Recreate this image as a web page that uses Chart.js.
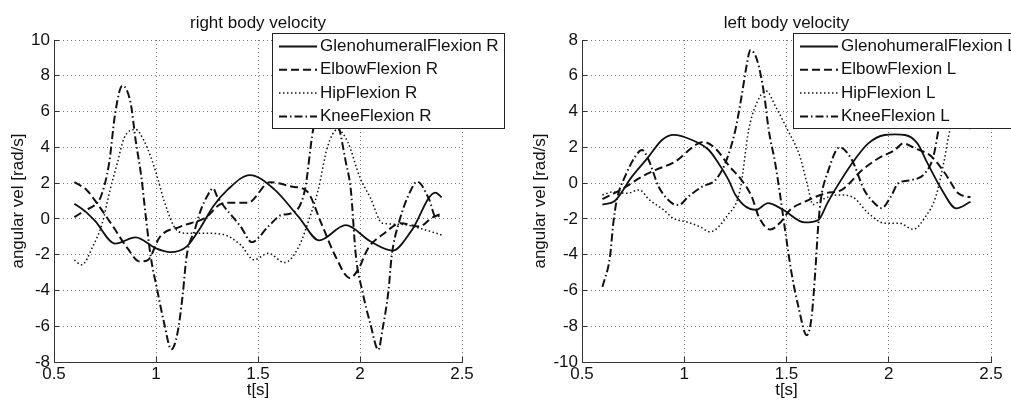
<!DOCTYPE html>
<html>
<head>
<meta charset="utf-8">
<script src="https://cdn.jsdelivr.net/npm/chart.js@4.4.0/dist/chart.umd.min.js"></script>
<style>
  html, body { margin: 0; padding: 0; background: #fff; }
  #wrap { position: relative; width: 1011px; height: 403px; overflow: hidden; }
  canvas { position: absolute; top: 0; }
</style>
</head>
<body>
<div id="wrap">
  <canvas id="rightBody" width="506" height="403" style="left:0"></canvas>
  <canvas id="leftBody" width="505" height="403" style="left:506px"></canvas>
</div>
<script>
// ---- data (t in s, angular velocity in rad/s) ----
const xTicks = [0.5, 1, 1.5, 2, 2.5];

// right body
const tGhR = [0.6, 0.65, 0.7, 0.8, 0.9, 1.0, 1.07, 1.15, 1.22, 1.28, 1.35, 1.46, 1.58, 1.7, 1.8, 1.93, 2.05, 2.16, 2.25, 2.37, 2.4];
const vGhR = [0.85, 0.45, -0.1, -1.38, -1.03, -1.65, -1.86, -1.55, -0.45, 0.69, 1.62, 2.45, 1.65, 0.1, -1.2, -0.35, -1.25, -1.77, -0.7, 1.47, 1.2];

const tElR = [0.6, 0.66, 0.71, 0.79, 0.86, 0.92, 0.96, 1.02, 1.12, 1.25, 1.31, 1.36, 1.45, 1.56, 1.67, 1.74, 1.81, 1.88, 1.95, 1.99, 2.04, 2.12, 2.2, 2.29, 2.35, 2.4];
const vElR = [2.05, 1.62, 0.88, -0.43, -1.64, -2.38, -2.3, -0.99, -0.43, 0.13, 0.78, 0.9, 0.9, 2.05, 1.8, 1.55, -0.24, -2.1, -3.3, -2.85, -1.64, -0.8, -0.24, -0.43, 0.04, 0.3];

const tHipR = [0.6, 0.636, 0.69, 0.735, 0.775, 0.81, 0.843, 0.9, 0.94, 0.974, 1.006, 1.04, 1.1, 1.15, 1.22, 1.32, 1.415, 1.48, 1.55, 1.63, 1.7, 1.755, 1.795, 1.84, 1.89, 1.94, 2.0, 2.05, 2.11, 2.2, 2.3, 2.4];
const vHipR = [-2.3, -2.57, -1.55, -0.3, 1.62, 3.1, 4.5, 5.0, 4.4, 3.48, 2.36, 1.0, -0.61, -0.8, -0.8, -0.85, -1.45, -2.29, -1.92, -2.44, -1.55, 0.13, 1.62, 4.0, 5.0, 4.3, 2.3, 1.2, -0.24, -0.3, -0.55, -0.9];

const tKnR = [0.6, 0.65, 0.71, 0.73, 0.77, 0.8, 0.835, 0.876, 0.9, 0.928, 0.95, 0.974, 1.006, 1.04, 1.075, 1.105, 1.13, 1.15, 1.19, 1.22, 1.25, 1.28, 1.3, 1.415, 1.47, 1.55, 1.615, 1.665, 1.73, 1.77, 1.84, 1.9, 1.93, 1.955, 1.98, 2.01, 2.05, 2.09, 2.11, 2.14, 2.155, 2.19, 2.25, 2.28, 2.34, 2.37, 2.4];
const vKnR = [0.1, 0.45, 0.88, 1.25, 3.1, 5.9, 7.45, 6.46, 4.41, 2.36, 0.13, -2.1, -3.97, -5.83, -7.3, -6.4, -4.34, -2.1, -0.61, 0.5, 1.25, 1.71, 1.25, -0.43, -1.3, -0.43, 0.22, 0.32, 1.62, 4.97, 7.4, 4.97, 3.2, 1.62, -2.1, -3.97, -5.83, -7.32, -6.2, -3.97, -2.1, -0.24, 1.62, 2.08, 1.06, 0.13, 0.2];

// left body
const tGhL = [0.6, 0.66, 0.744, 0.826, 0.891, 0.948, 1.038, 1.12, 1.168, 1.217, 1.25, 1.3, 1.35, 1.41, 1.478, 1.59, 1.655, 1.7, 1.737, 1.82, 1.9, 1.98, 2.03, 2.08, 2.14, 2.19, 2.26, 2.33, 2.4];
const vGhL = [-1.2, -1.0, 0.36, 1.48, 2.41, 2.7, 2.41, 1.85, 1.1, 0.17, -0.65, -1.31, -1.5, -1.12, -1.45, -2.2, -2.06, -1.12, -0.38, 1.1, 2.22, 2.69, 2.72, 2.69, 2.22, 1.1, -0.38, -1.41, -1.04];

const tElL = [0.6, 0.7, 0.793, 0.858, 0.956, 1.005, 1.054, 1.095, 1.152, 1.22, 1.28, 1.33, 1.364, 1.42, 1.47, 1.517, 1.59, 1.69, 1.77, 1.87, 1.95, 2.03, 2.07, 2.13, 2.21, 2.275, 2.34, 2.4];
const vElL = [-0.9, -0.3, 0.36, 0.73, 1.2, 1.66, 2.13, 2.3, 1.94, 0.95, 0.17, -0.76, -1.87, -2.6, -2.2, -1.5, -1.04, -0.57, -0.38, 0.73, 1.39, 1.85, 2.22, 1.94, 1.48, 0.55, -0.57, -0.8];

const tHipL = [0.6, 0.65, 0.72, 0.78, 0.83, 0.9, 0.946, 1.01, 1.077, 1.126, 1.207, 1.273, 1.315, 1.347, 1.4, 1.45, 1.5, 1.566, 1.6, 1.63, 1.67, 1.75, 1.82, 1.9, 1.98, 2.05, 2.12, 2.18, 2.23, 2.27, 2.3, 2.35, 2.4];
const vHipL = [-0.66, -0.5, -0.57, -0.38, -0.94, -1.5, -1.97, -2.16, -2.44, -2.72, -1.87, -0.38, 2.97, 4.27, 5.15, 4.2, 3.1, 1.48, 0.0, -1.2, -0.94, -0.66, -0.76, -1.68, -2.24, -2.24, -2.58, -1.87, -0.76, 1.2, 3.0, 4.0, 3.0];

const tKnL = [0.6, 0.637, 0.653, 0.67, 0.71, 0.76, 0.793, 0.826, 0.875, 0.94, 0.973, 1.02, 1.087, 1.152, 1.2, 1.25, 1.28, 1.307, 1.323, 1.356, 1.39, 1.413, 1.445, 1.47, 1.493, 1.525, 1.558, 1.599, 1.623, 1.64, 1.656, 1.67, 1.7, 1.76, 1.82, 1.88, 1.93, 1.965, 2.01, 2.047, 2.11, 2.177, 2.218, 2.243, 2.28, 2.32, 2.36, 2.4];
const vKnL = [-5.8, -4.1, -2.25, -0.94, 0.36, 1.48, 1.85, 1.29, -0.2, -1.12, -1.22, -0.76, -0.2, 0.17, 1.1, 2.97, 4.83, 6.7, 7.44, 6.88, 5.02, 2.97, 1.1, -0.76, -2.62, -5.05, -6.9, -8.5, -7.46, -5.05, -2.25, -0.76, 0.55, 2.0, 1.29, -0.38, -1.12, -1.4, -0.76, 0.0, 0.17, 0.55, 1.48, 2.97, 5.5, 7.3, 6.5, 4.5];

const labelsR = ['GlenohumeralFlexion R', 'ElbowFlexion R', 'HipFlexion R', 'KneeFlexion R'];
const labelsL = ['GlenohumeralFlexion L', 'ElbowFlexion L', 'HipFlexion L', 'KneeFlexion L'];

// ---- styling ----
const FONT = '"Liberation Sans", Arial, Helvetica, sans-serif';
const INK = '#111';
const styles = [
  { dash: [], width: 1.8 },          // solid
  { dash: [8, 4], width: 2 },        // dashed
  { dash: [1.5, 2.5], width: 1.5 },  // dotted
  { dash: [8, 3, 1.5, 3], width: 2 } // dash-dot
];

function series(label, ts, vs, k) {
  return {
    label: label,
    data: ts.map((t, i) => ({ x: t, y: vs[i] })),
    borderColor: INK,
    borderWidth: styles[k].width,
    borderDash: styles[k].dash,
    pointRadius: 0,
    fill: false,
    cubicInterpolationMode: 'monotone'
  };
}

// MATLAB-like boxed legend drawn on top of the axes
const boxLegend = {
  id: 'boxLegend',
  afterDraw(chart, args, opts) {
    const ctx = chart.ctx;
    ctx.save();
    ctx.setLineDash([]);
    ctx.fillStyle = '#fff';
    ctx.fillRect(opts.x, opts.y, opts.w, opts.h);
    ctx.strokeStyle = '#222';
    ctx.lineWidth = 1;
    ctx.strokeRect(opts.x + 0.5, opts.y + 0.5, opts.w, opts.h);
    ctx.font = '17px ' + FONT;
    ctx.textBaseline = 'middle';
    chart.data.datasets.forEach((ds, i) => {
      const y = opts.y + 13.5 + i * 23.3;
      ctx.strokeStyle = ds.borderColor;
      ctx.lineWidth = ds.borderWidth;
      ctx.setLineDash(ds.borderDash);
      ctx.beginPath();
      ctx.moveTo(opts.x + 7, y);
      ctx.lineTo(opts.x + 45, y);
      ctx.stroke();
      ctx.setLineDash([]);
      ctx.fillStyle = INK;
      ctx.fillText(ds.label, opts.x + 48, y);
    });
    ctx.restore();
  }
};

function makeChart(id, title, datasets, yMin, yMax, yWidth, yTitlePad, padRight, legendX) {
  const font = { family: FONT, size: 17, weight: 'normal' };
  return new Chart(document.getElementById(id), {
    type: 'line',
    data: { datasets: datasets },
    plugins: [boxLegend],
    options: {
      responsive: false,
      animation: false,
      devicePixelRatio: 1,
      layout: { padding: { top: 0, right: padRight, bottom: 0, left: 0 } },
      plugins: {
        legend: { display: false },
        tooltip: { enabled: false },
        title: {
          display: true, text: title, color: INK, font: font, fullSize: false,
          padding: { top: 12.8, bottom: 6.8 }
        },
        boxLegend: { x: legendX, y: 33, w: 232, h: 95 }
      },
      scales: {
        x: {
          type: 'linear', min: 0.5, max: 2.5,
          afterBuildTicks: (s) => { s.ticks = xTicks.map(v => ({ value: v })); },
          ticks: { color: INK, font: font, padding: 7, maxRotation: 0, callback: (v) => String(v) },
          grid: { color: '#777', lineWidth: 1, drawTicks: true, tickLength: -5, tickColor: '#333' },
          border: { color: '#333', width: 1, dash: [1, 3] },
          title: { display: true, text: 't[s]', color: INK, font: font, padding: { top: 0, bottom: 2.8 } },
          afterFit: (s) => { s.height = 41; }
        },
        y: {
          min: yMin, max: yMax,
          ticks: { stepSize: 2, color: INK, font: font, padding: 9, callback: (v) => String(v) },
          grid: { color: '#777', lineWidth: 1, drawTicks: true, tickLength: -5, tickColor: '#333' },
          border: { color: '#333', width: 1, dash: [1, 3] },
          title: { display: true, text: 'angular vel [rad/s]', color: INK, font: font, padding: { top: yTitlePad, bottom: 0 } },
          afterFit: (s) => { s.width = yWidth; }
        }
      }
    }
  });
}

makeChart('rightBody', 'right body velocity', [
  series(labelsR[0], tGhR, vGhR, 0),
  series(labelsR[1], tElR, vElR, 1),
  series(labelsR[2], tHipR, vHipR, 2),
  series(labelsR[3], tKnR, vKnR, 3)
], -8, 10, 54, 7.8, 44, 272);

makeChart('leftBody', 'left body velocity', [
  series(labelsL[0], tGhL, vGhL, 0),
  series(labelsL[1], tElL, vElL, 1),
  series(labelsL[2], tHipL, vHipL, 2),
  series(labelsL[3], tKnL, vKnL, 3)
], -10, 8, 76, 23.8, 20, 287);
</script>
</body>
</html>
